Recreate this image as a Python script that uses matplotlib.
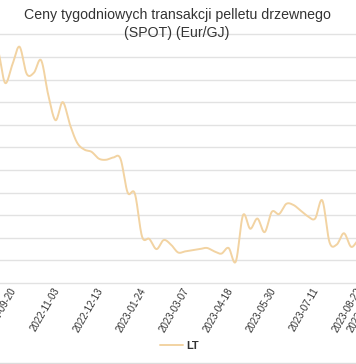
import numpy as np
import matplotlib
matplotlib.use("Agg")
import matplotlib.pyplot as plt
from matplotlib.lines import Line2D
import matplotlib.transforms as mtransforms

plt.rcParams['font.family'] = ['Liberation Sans', 'DejaVu Sans']

# ---- data (weekly SPOT prices, Eur/GJ) ----
values = [28.4, 28.5, 28.8, 28.6, 25.7, 27.3,
          28.9, 26.5, 26.6, 27.7, 24.6, 22.4,
          24.0, 22.0, 20.4, 19.8, 19.6, 19.0,
          18.9, 19.1, 19.0, 16.0, 15.9, 12.1,
          11.9, 11.0, 11.8, 11.4, 10.7, 10.8,
          10.9, 11.0, 11.1, 10.8, 10.6, 11.1,
          9.9, 14.0, 12.8, 13.7, 12.5, 14.3,
          14.1, 15.0, 14.9, 14.4, 13.9, 13.7,
          15.3, 11.6, 11.4, 12.4, 11.2, 11.8,
          12.0, 11.8, 11.9]
tick_labels = ["2022-08-09", "2022-09-20", "2022-11-03", "2022-12-13",
               "2023-01-24", "2023-03-07", "2023-04-18", "2023-05-30",
               "2023-07-11", "2023-08-22", "2023-09-05"]
series_name = "LT"
title_lines = ["Ceny tygodniowych transakcji pelletu drzewnego", "(SPOT) (Eur/GJ)"]

LINE_COLOR = "#f2d3a2"
GRID_COLOR = "#e2e2e2"
TEXT_COLOR = "#333333"

W, H = 356, 364
fig = plt.figure(figsize=(W / 100, H / 100), dpi=100)
fig.patch.set_facecolor("white")

# the plot area is wider than the visible crop
ax_left_px, ax_right_px = -60.0, 420.0
ax_bottom_px, ax_top_px = 283.0, 34.3
ax = fig.add_axes([ax_left_px / W, 1 - ax_bottom_px / H,
                   (ax_right_px - ax_left_px) / W, (ax_bottom_px - ax_top_px) / H])

n = len(values)
xi = np.arange(n, dtype=float)
y = np.asarray(values, dtype=float)

# Catmull-Rom smoothing (rendering of the smoothed line)
def catmull_rom(x, y, per=20):
    xp = np.concatenate([[2 * x[0] - x[1]], x, [2 * x[-1] - x[-2]]])
    yp = np.concatenate([[2 * y[0] - y[1]], y, [2 * y[-1] - y[-2]]])
    xs, ys = [], []
    t = np.linspace(0, 1, per, endpoint=False)
    for i in range(1, len(xp) - 2):
        p0, p1, p2, p3 = yp[i - 1], yp[i], yp[i + 1], yp[i + 2]
        q0, q1, q2, q3 = xp[i - 1], xp[i], xp[i + 1], xp[i + 2]
        def cr(a, b, c, d):
            return 0.5 * ((2 * b) + (-a + c) * t + (2 * a - 5 * b + 4 * c - d) * t ** 2
                          + (-a + 3 * b - 3 * c + d) * t ** 3)
        xs.append(cr(q0, q1, q2, q3))
        ys.append(cr(p0, p1, p2, p3))
    xs.append([x[-1]]); ys.append([y[-1]])
    return np.concatenate(xs), np.concatenate(ys)

sx, sy = catmull_rom(xi, y)
ax.plot(sx, sy, color=LINE_COLOR, lw=1.4, label=series_name, solid_capstyle="round")

# axes scales
ax.set_yticks(np.arange(8, 31, 2))
ax.set_ylim(8, 30)

tick_idx = list(range(0, n, 6)) + [n - 1]
ax.set_xticks(tick_idx)
ax.set_xticklabels(tick_labels, rotation=60, ha="right", va="center",
                   rotation_mode="anchor", fontsize=7, color=TEXT_COLOR)

px_per_cat = 7.21
first_tick_px = 19.5
x_left = 6 - (first_tick_px - ax_left_px) / px_per_cat
x_right = 6 + (ax_right_px - first_tick_px) / px_per_cat
ax.set_xlim(x_left, x_right)

ax.tick_params(axis="x", length=0, pad=4)
ax.tick_params(axis="y", length=0, labelleft=False)
ax.grid(axis="y", color=GRID_COLOR, lw=1.0)
for gl in ax.get_ygridlines():
    gl.set_clip_on(False)
for s in ax.spines.values():
    s.set_visible(False)
ax.set_facecolor("none")

# shift the rotated labels a little to the left (after tick_params)
offset = mtransforms.ScaledTranslation(-5.5 / 100, 0, fig.dpi_scale_trans)
for lab in ax.get_xticklabels():
    lab.set_transform(lab.get_transform() + offset)

# title
fig.text(177 / W, 1 - 19.3 / H, title_lines[0], ha="center", va="baseline",
         fontsize=10.2, color=TEXT_COLOR)
fig.text(177 / W, 1 - 37.3 / H, title_lines[1], ha="center", va="baseline",
         fontsize=10.2, color=TEXT_COLOR)

# legend
fig.legend(loc="center", bbox_to_anchor=(179.5 / W, 1 - 346 / H), frameon=False,
           prop={"weight": "bold", "size": 8}, handlelength=2.1,
           handletextpad=0.3, labelcolor=TEXT_COLOR)

# bottom border
fig.add_artist(Line2D([0, 1], [1 - 362.7 / H] * 2, transform=fig.transFigure,
                      color="#dcdcdc", lw=1.0))

fig.savefig("out.png", dpi=100, facecolor="white")
